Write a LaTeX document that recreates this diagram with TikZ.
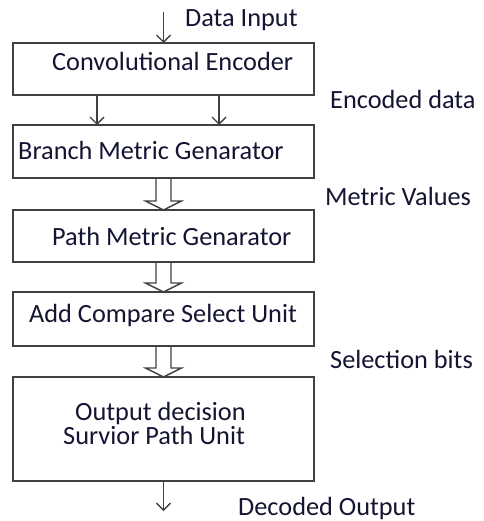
\documentclass[tikz,border=0pt]{standalone}
\usepackage{fontspec}
\setmainfont{Carlito}
\usetikzlibrary{arrows.meta,calc}
\definecolor{ln}{rgb}{0.25,0.25,0.25}
\definecolor{tx}{rgb}{0.08,0.08,0.2}
\newcommand\holarrow[2]{%
  \path[hollow] let \p1=(#1.south), \p2=(#2.north) in
    (\x1-7.5pt,\y1) -- (\x1-7.5pt,\y2+9pt) -- (\x1-18pt,\y2+9pt) -- (\x1,\y2)
    -- (\x1+18pt,\y2+9pt) -- (\x1+7.5pt,\y2+9pt) -- (\x1+7.5pt,\y1);}
\begin{document}
\begin{tikzpicture}[x=1pt,y=-1pt,
  box/.style={draw=ln,line width=2.2pt,minimum width=301pt,inner sep=0pt,outer sep=0pt,rectangle},
  lbl/.style={anchor=base west,inner sep=0pt,text=tx,font=\fontsize{26.3}{31}\selectfont},
  arr/.style={draw=ln,line width=1.4pt,-{Straight Barb[length=7pt,width=14pt,line width=1.4pt]}},
  hollow/.style={draw=ln,line width=1.4pt,line join=miter}]
\useasboundingbox (0,0) rectangle (483,521);
\fill[white] (0,0) rectangle (483,521);
% boxes
\node[box,minimum height=52pt] (b1) at (163.5,69) {};
\node[box,minimum height=53pt] (b2) at (163.5,151.5) {};
\node[box,minimum height=52pt] (b3) at (163.5,236) {};
\node[box,minimum height=54pt] (b4) at (163.5,319) {};
\node[box,minimum height=104pt] (b5) at (163.5,429) {};
% box texts
\node[lbl] (t1) at (52,71) {Convolutional Encoder};
\node[lbl] (t2) at (18,160) {Branch Metric Genarator};
\node[lbl] (t3) at (52,245) {Path Metric Genarator};
\node[lbl] (t4) at (29,322) {Add Compare Select Unit};
\node[lbl] (t5a) at (75,420) {Output decision};
\node[lbl] (t5b) at (63,444) {Survior Path Unit};
% side labels
\node[lbl] (l0) at (185,27) {Data Input};
\node[lbl] (l1) at (330,109) {Encoded data};
\node[lbl] (l2) at (325,205) {Metric Values};
\node[lbl] (l3) at (330,368) {Selection bits};
\node[lbl] (l4) at (238,515) {Decoded Output};
% connectors
\coordinate (in) at (163.5,12);
\coordinate (out) at (163.5,511);
\draw[arr] (in) -- (b1.north);
\draw[arr] ([xshift=-66.5pt]b1.south) -- ([xshift=-66.5pt]b2.north);
\draw[arr] ([xshift=55.5pt]b1.south) -- ([xshift=55.5pt]b2.north);
\holarrow{b2}{b3}
\holarrow{b3}{b4}
\holarrow{b4}{b5}
\draw[arr] (b5.south) -- (out);
\end{tikzpicture}
\end{document}
